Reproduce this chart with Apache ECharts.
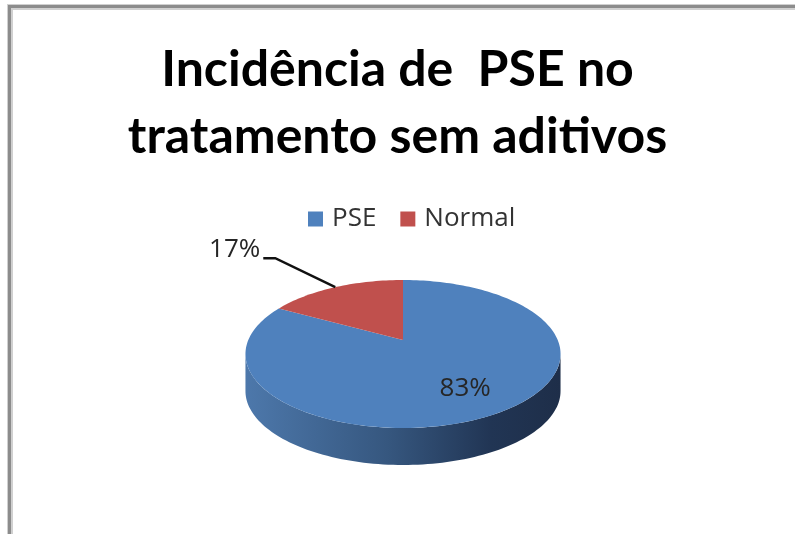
<!DOCTYPE html>
<html><head><meta charset="utf-8">
<script src="https://cdn.jsdelivr.net/npm/echarts@6/dist/echarts.min.js"></script>
<style>html,body{margin:0;padding:0;background:#fff}#c{width:795px;height:534px}</style>
</head><body><div id="c"></div>
<script>
// ---- data ----
const titleLines = ['Incidência de  PSE no', 'tratamento sem aditivos'];
const categories = ['PSE', 'Normal'];
const values = [83, 17];

// ---- styles ----
const topColors = ['#4f81bd', '#c0504d'];
const sideStops = [
  [{offset: 0, color: '#4d78ab'}, {offset: 0.45, color: '#36577f'}, {offset: 0.78, color: '#213554'}, {offset: 1, color: '#1e2e49'}],
  [{offset: 0, color: '#a8403e'}, {offset: 1, color: '#6e2a28'}]
];
const CX = 403, CY = 340, RX = 154.7, KY = 71.35, PA = 0.189, DEPTH = 37;

const total = values.reduce((s, v) => s + v, 0);
const starts = values.map((v, i) => values.slice(0, i).reduce((s, x) => s + x, 0) / total * 360);
const FRONT_A = Math.acos(-PA) * 180 / Math.PI;
const FRONT_B = 360 - FRONT_A;

function proj(deg, r, dy) {
  const t = deg * Math.PI / 180;
  const u = r * Math.sin(t), v = -r * Math.cos(t);
  const d = 1 - PA * v;
  return [CX + RX * u / d, CY + KY * v / d + (dy || 0)];
}
function arc(a, b, dy) {
  const pts = [];
  const n = Math.max(2, Math.ceil(Math.abs(b - a) / 1.5));
  for (let k = 0; k <= n; k++) pts.push(proj(a + (b - a) * k / n, 1, dy));
  return pts;
}

function renderItem(params, api) {
  const i = params.seriesIndex;
  const val = api.value(0);
  const a0 = starts[i];
  const a1 = a0 + val / total * 360;
  const children = [];
  const s = Math.max(a0, FRONT_A), e = Math.min(a1, FRONT_B);
  if (e > s) {
    children.push({
      type: 'polygon',
      shape: {points: arc(s, e, 0).concat(arc(e, s, DEPTH))},
      style: {fill: {type: 'linear', x: CX - RX * 1.02, y: 0, x2: CX + RX * 1.02, y2: 0, colorStops: sideStops[i], global: true}}
    });
  }
  children.push({
    type: 'polygon',
    shape: {points: [proj(0, 0, 0)].concat(arc(a0, a1, 0))},
    style: {fill: topColors[i]}
  });
  const pct = Math.round(val / total * 100) + '%';
  const mid = (a0 + a1) / 2;
  const font = '26px "Open Sans"';
  if (val / total >= 0.25) {
    const p = proj(mid, 0.7, 0);
    children.push({type: 'text', x: p[0], y: p[1], style: {text: pct, font: font, fill: '#262626', align: 'center', verticalAlign: 'middle'}});
  } else {
    const edge = proj(mid, 1, 0);
    const sx = edge[0] < CX ? -1 : 1;
    const elbow = [edge[0] + sx * 60, edge[1] - 29];
    const end = [elbow[0] + sx * 12, elbow[1]];
    children.push({type: 'polyline', shape: {points: [edge, elbow, end]}, style: {stroke: '#111', lineWidth: 2.5, fill: null}});
    children.push({type: 'text', x: end[0] + sx * 3, y: end[1] + 4, style: {text: pct, font: font, fill: '#262626', align: sx < 0 ? 'right' : 'left', verticalAlign: 'bottom'}});
  }
  return {type: 'group', children: children};
}

const chart = echarts.init(document.getElementById('c'), null, {renderer: 'canvas'});
chart.setOption({
  backgroundColor: '#ffffff',
  animation: false,
  title: {
    text: titleLines.join('\n'),
    left: 'center', top: 31,
    textStyle: {fontFamily: 'Lato', fontWeight: 'bold', fontSize: 50, lineHeight: 67, color: '#000'}
  },
  legend: {
    data: categories,
    left: 303, top: 201,
    icon: 'rect', itemWidth: 15, itemHeight: 15, itemGap: 24,
    textStyle: {fontFamily: 'Open Sans', fontSize: 26, color: '#333', padding: [0, 0, 0, 4]}
  },
  graphic: [
    {type: 'rect', shape: {x: 7, y: 4, width: 788, height: 6}, style: {fill: '#d0d0d0'}, silent: true},
    {type: 'rect', shape: {x: 7, y: 4, width: 6, height: 530}, style: {fill: '#d0d0d0'}, silent: true},
    {type: 'rect', shape: {x: 8, y: 5, width: 787, height: 3}, style: {fill: '#8c8c8c'}, silent: true},
    {type: 'rect', shape: {x: 8, y: 5, width: 3, height: 529}, style: {fill: '#8c8c8c'}, silent: true}
  ],
  series: categories.map((name, i) => ({
    type: 'custom',
    name: name,
    coordinateSystem: 'none',
    itemStyle: {color: topColors[i]},
    renderItem: renderItem,
    data: [[values[i]]]
  }))
});
</script>
</body></html>
